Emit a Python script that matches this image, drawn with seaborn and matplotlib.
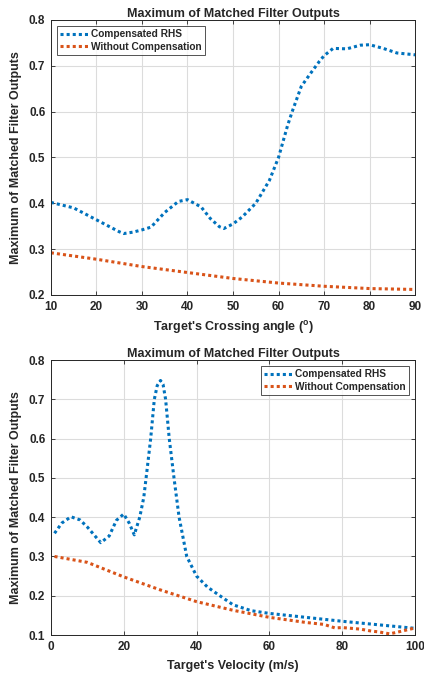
import numpy as np
import pandas as pd
import matplotlib
matplotlib.use("Agg")
import matplotlib.pyplot as plt
import seaborn as sns

# ---- Data: top panel (crossing angle) ----
angle = [10, 15, 20, 25, 26, 28, 30, 32, 35, 38, 40, 43, 45, 47, 48, 50, 52, 55, 58, 60,
         62, 63, 65, 67, 69, 70, 72, 75, 78, 80, 83, 86, 90]
comp_angle = [0.402, 0.39, 0.364, 0.338, 0.334, 0.337, 0.342, 0.348, 0.38, 0.404, 0.408, 0.392,
              0.367, 0.349, 0.345, 0.355, 0.37, 0.40, 0.45, 0.50,
              0.57, 0.60, 0.655, 0.683, 0.71, 0.722, 0.738, 0.737, 0.745, 0.746, 0.738, 0.728, 0.724]
angle2 = [10, 20, 30, 40, 50, 60, 70, 80, 90]
nocomp_angle = [0.292, 0.278, 0.262, 0.249, 0.236, 0.226, 0.219, 0.214, 0.212]

# ---- Data: bottom panel (velocity) ----
vel = [1, 3, 5.5, 8, 10, 13.7, 16, 18, 20, 21.5, 22.9, 24.4, 25.5, 26.4, 27.4, 28.4, 29.2, 30.1,
       30.8, 31.5, 32.5, 33.8, 35.2, 37.3, 40, 43, 46.4, 50, 55, 60, 70, 80, 90, 100]
comp_vel = [0.359, 0.385, 0.401, 0.393, 0.375, 0.335, 0.352, 0.392, 0.408, 0.385, 0.355, 0.40,
            0.45, 0.52, 0.60, 0.70, 0.735, 0.748, 0.738, 0.70, 0.60, 0.50, 0.40, 0.30, 0.25,
            0.222, 0.20, 0.177, 0.162, 0.155, 0.145, 0.135, 0.126, 0.117]
vel2 = [1, 10, 20, 30, 40, 50, 60, 70, 75, 78, 80, 85, 88, 90, 93, 95, 100]
nocomp_vel = [0.300, 0.285, 0.248, 0.215, 0.185, 0.163, 0.145, 0.132, 0.127, 0.118, 0.119,
              0.115, 0.110, 0.108, 0.103, 0.107, 0.118]

series_names = ["Compensated RHS", "Without Compensation"]
colors = ["#0072BD", "#D95319"]

sns.set_theme(style="white")
plt.rcParams["font.family"] = ["Liberation Sans", "DejaVu Sans"]
plt.rcParams["font.weight"] = "bold"

fig = plt.figure(figsize=(4.24, 6.77), dpi=100)
ax1 = fig.add_axes([0.120, 0.5643, 0.859, 0.4062])
ax2 = fig.add_axes([0.120, 0.0620, 0.859, 0.4062])

df1 = pd.concat([
    pd.DataFrame({"x": angle, "y": comp_angle, "s": series_names[0]}),
    pd.DataFrame({"x": angle2, "y": nocomp_angle, "s": series_names[1]}),
])
df2 = pd.concat([
    pd.DataFrame({"x": vel, "y": comp_vel, "s": series_names[0]}),
    pd.DataFrame({"x": vel2, "y": nocomp_vel, "s": series_names[1]}),
])

def style(ax, df, xlim, ylim, xticks, yticks, xlabel, legloc):
    sns.lineplot(data=df, x="x", y="y", hue="s", palette=colors, ax=ax,
                 linewidth=2.2, linestyle=":", sort=True, estimator=None)
    for ln in ax.lines:
        ln.set_linestyle((0, (1, 1)))
    ax.set_xlim(*xlim)
    ax.set_ylim(*ylim)
    ax.set_xticks(xticks)
    ax.set_yticks(yticks)
    ax.set_xticklabels([f"{t:g}" for t in xticks], fontsize=8.5, fontweight="bold")
    ax.set_yticklabels([f"{t:g}" for t in yticks], fontsize=8.5, fontweight="bold")
    ax.grid(True, color="#dcdcdc", linewidth=0.8)
    ax.set_axisbelow(True)
    ax.tick_params(direction="in", length=3, width=0.6, top=True, right=True,
                   bottom=True, left=True, pad=4, colors="#262626")
    for sp in ax.spines.values():
        sp.set_color("#262626")
        sp.set_linewidth(0.7)
    ax.set_xlabel(xlabel, fontsize=9, fontweight="bold", labelpad=5)
    ax.set_ylabel("Maximum of Matched Filter Outputs", fontsize=9, fontweight="bold", labelpad=5)
    ax.set_title("Maximum of Matched Filter Outputs", fontsize=9, fontweight="bold", pad=2)
    leg = ax.legend(loc=legloc, fontsize=7.3, frameon=True, fancybox=False,
                    edgecolor="#262626", handlelength=3.0, handletextpad=0.1,
                    borderpad=0.3, labelspacing=0.25, borderaxespad=0.6)
    leg.get_frame().set_linewidth(0.7)
    for t in leg.get_texts():
        t.set_fontweight("bold")
    for h in leg.get_lines():
        h.set_linestyle((0, (1, 1)))
        h.set_linewidth(2.2)

style(ax1, df1, (10, 90), (0.2, 0.8), [10, 20, 30, 40, 50, 60, 70, 80, 90],
      [0.2, 0.3, 0.4, 0.5, 0.6, 0.7, 0.8], "Target's Crossing angle ($\\mathregular{^o}$)", "upper left")
style(ax2, df2, (0, 100), (0.1, 0.8), [0, 20, 40, 60, 80, 100],
      [0.1, 0.2, 0.3, 0.4, 0.5, 0.6, 0.7, 0.8], "Target's Velocity (m/s)", "upper right")

fig.savefig("out.png", dpi=100)
